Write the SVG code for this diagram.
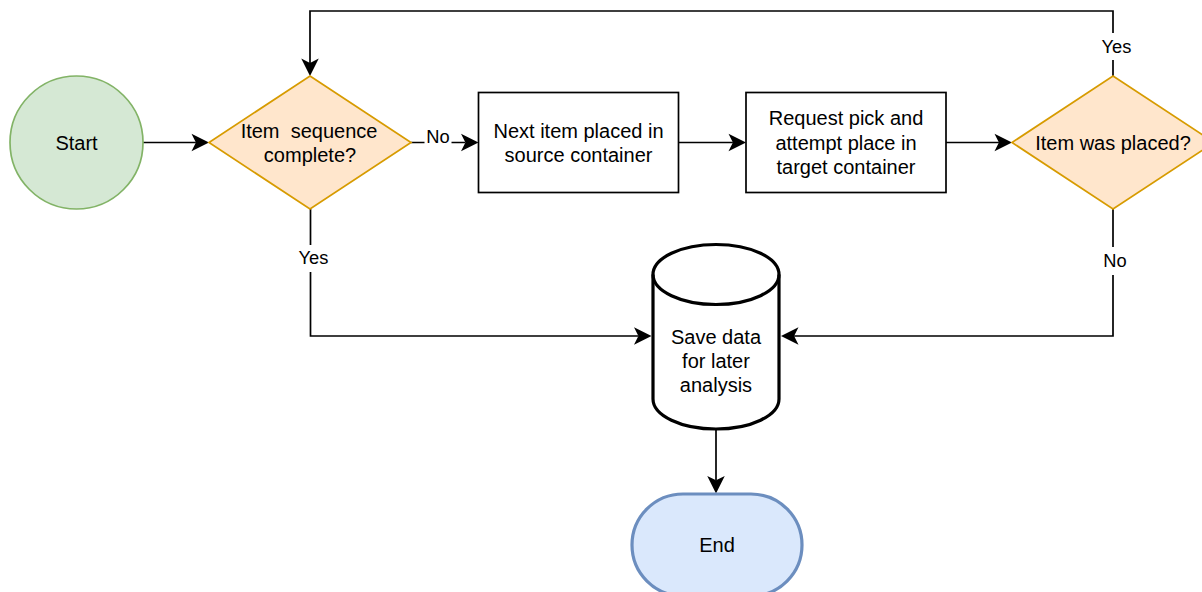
<svg xmlns="http://www.w3.org/2000/svg" width="1202" height="592" viewBox="0 0 1202 592">
  <defs>
    <marker id="arrow" viewBox="-5 -10 20 20" refX="0" refY="0" markerWidth="20" markerHeight="20" markerUnits="userSpaceOnUse" orient="auto">
      <path d="M13.1,0 L-4.4,-8.75 L0,0 L-4.4,8.75 Z" fill="#000"/>
    </marker>
  </defs>
  <style>
    text { font-family: "Liberation Sans", Arial, Helvetica, sans-serif; fill: #000; text-anchor: middle; }
    .t { font-size: 20px; }
    .lbl { font-size: 18.3px; }
    .edge { fill: none; stroke: #000; stroke-width: 1.7; marker-end: url(#arrow); }
    .lblbg { fill: #fff; stroke: none; }
    .dec { fill: #ffe6cc; stroke: #d79b00; stroke-width: 1.7; }
    .box { fill: #fff; stroke: #000; stroke-width: 1.7; }
  </style>
  <rect x="0" y="0" width="1202" height="592" fill="#fff"/>

  <g id="connectors">
    <path class="edge" d="M143,142.5 H195.9"/>
    <path class="edge" d="M411,142.5 H465.4"/>
    <path class="edge" d="M678.5,142.5 H732.9"/>
    <path class="edge" d="M946,142.5 H998.9"/>
    <path class="edge" d="M1113,76 V11 H310 V62.9"/>
    <path class="edge" d="M1113,209 V336 H794.1"/>
    <path class="edge" d="M310.5,209 V336 H638.4"/>
    <path class="edge" d="M716,429 V480.3"/>
    <g id="edge-labels">
      <rect class="lblbg" x="424.5" y="127" width="27" height="17.5"/>
      <text class="lbl" x="438" y="143">No</text>
      <rect class="lblbg" x="1100.5" y="33" width="32" height="27"/>
      <text class="lbl" x="1116.5" y="53">Yes</text>
      <rect class="lblbg" x="297.5" y="245" width="32" height="27"/>
      <text class="lbl" x="313.5" y="263.5">Yes</text>
      <rect class="lblbg" x="1102" y="247" width="26" height="28"/>
      <text class="lbl" x="1115" y="266.5">No</text>
    </g>
  </g>

  <g id="start">
    <circle cx="76.5" cy="142.5" r="66.5" fill="#d5e8d4" stroke="#82b366" stroke-width="1.7"/>
    <text class="t" x="76.5" y="149.5">Start</text>
  </g>

  <g id="decision-sequence">
    <polygon class="dec" points="310,76 411,142.5 310,209 209,142.5"/>
    <text class="t" x="309" y="137.7" style="white-space:pre">Item  sequence</text>
    <text class="t" x="310" y="162.2">complete?</text>
  </g>

  <g id="next-item">
    <rect class="box" x="478.5" y="92.5" width="200" height="100"/>
    <text class="t" x="578.5" y="137.7">Next item placed in</text>
    <text class="t" x="578.5" y="162.2">source container</text>
  </g>

  <g id="request-pick">
    <rect class="box" x="746" y="92.5" width="200" height="100"/>
    <text class="t" x="846" y="125.2">Request pick and</text>
    <text class="t" x="846" y="149.7">attempt place in</text>
    <text class="t" x="846" y="174.2">target container</text>
  </g>

  <g id="decision-placed">
    <polygon class="dec" points="1113,76 1214,142.5 1113,209 1012,142.5"/>
    <text class="t" x="1113" y="149.7">Item was placed?</text>
  </g>

  <g id="save-data">
    <path d="M653,274.5 A63,30 0 0 1 779,274.5 L779,399 A63,30 0 0 1 653,399 Z" fill="#fff" stroke="#000" stroke-width="3.2"/>
    <path d="M653,274.5 A63,30 0 0 0 779,274.5" fill="none" stroke="#000" stroke-width="3.2"/>
    <text class="t" x="716" y="344.2">Save data</text>
    <text class="t" x="716" y="368.2">for later</text>
    <text class="t" x="716" y="392.2">analysis</text>
  </g>

  <g id="end">
    <rect x="632" y="494" width="170" height="102" rx="51" ry="51" fill="#dae8fc" stroke="#6c8ebf" stroke-width="3.2"/>
    <text class="t" x="717" y="552.2">End</text>
  </g>
</svg>
